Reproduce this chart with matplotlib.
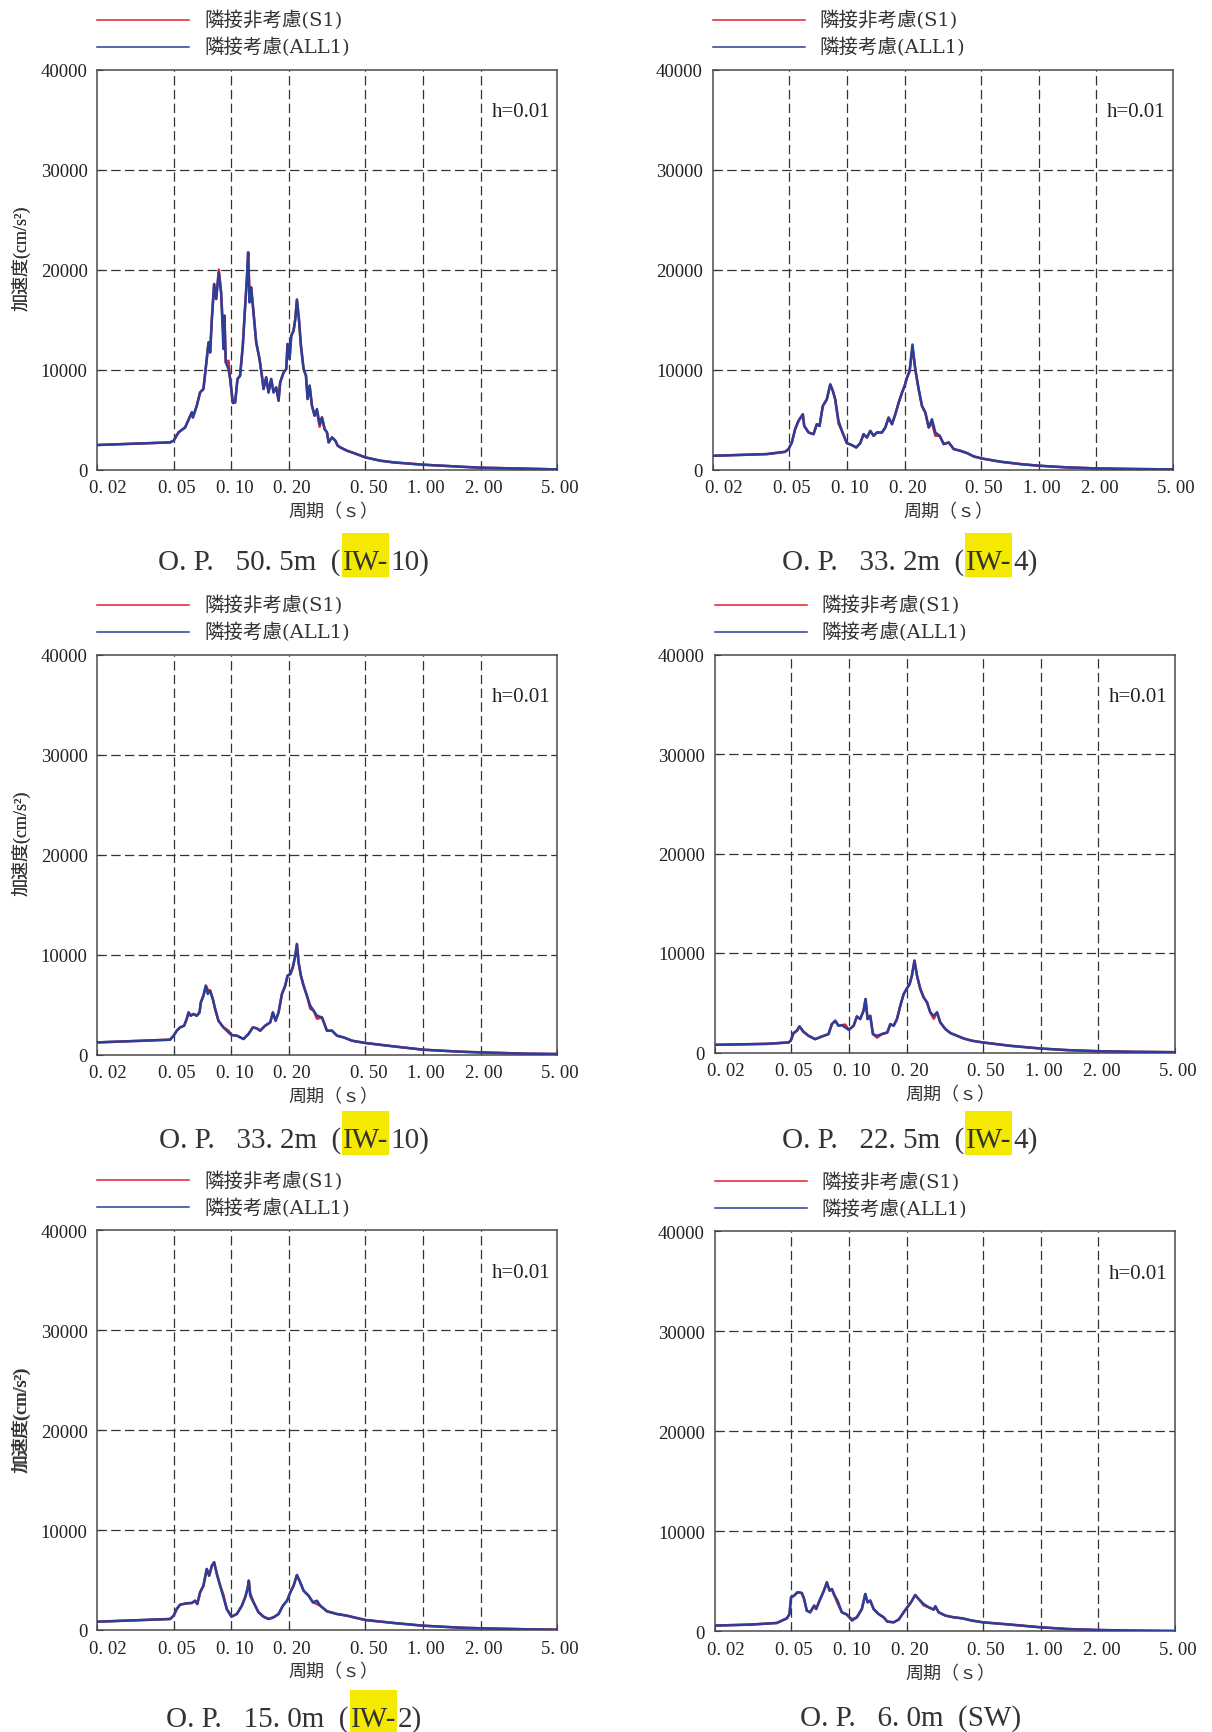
import matplotlib
matplotlib.use('Agg')
import matplotlib.pyplot as plt
from matplotlib.patches import Rectangle
from matplotlib.transforms import ScaledTranslation

# period (s) / acceleration (cm/s2)
# ALL1 = blue line, S1 = red line (only listed where it leaves ALL1)

# O.P. 50.5m (IW-10)
per_505 = [0.02, 0.0479, 0.05, 0.053, 0.0574, 0.0622, 0.063, 0.066, 0.0687, 0.0715,
           0.0744, 0.076, 0.0775, 0.0791, 0.0813, 0.0833, 0.086, 0.0884, 0.0909, 0.092,
           0.0935, 0.0966, 0.0985, 0.1018, 0.1046, 0.1076, 0.111, 0.1147, 0.118, 0.1204,
           0.1223, 0.1243, 0.1268, 0.1304, 0.1347, 0.1402, 0.1442, 0.1471, 0.1519, 0.1562,
           0.1613, 0.1659, 0.1713, 0.1762, 0.1796, 0.1871, 0.1932, 0.1962, 0.2011, 0.2051,
           0.211, 0.2153, 0.2196, 0.2249, 0.2304, 0.2379, 0.2448, 0.2497, 0.2558, 0.263,
           0.2716, 0.2793, 0.2884, 0.2966, 0.3062, 0.315, 0.3213, 0.3346, 0.3483, 0.3582,
           0.3698, 0.4006, 0.4341, 0.5, 0.598, 0.702, 1.0, 1.564, 2.0, 3.49,
           5.0]
all1_505 = [2470, 2730, 2900, 3730, 4230, 5730, 5230, 6400, 7730, 8070,
            11070, 12730, 11730, 15070, 18570, 17070, 19730, 17730, 12070, 15400,
            10730, 10070, 9070, 6670, 6730, 9070, 9400, 12400, 16400, 19070,
            21730, 16730, 18230, 15730, 12730, 11070, 9400, 8070, 9230, 7730,
            9070, 7730, 8230, 6900, 8730, 9730, 10070, 12570, 11070, 13400,
            13900, 15070, 17000, 15070, 12400, 10070, 9400, 7070, 8400, 6400,
            5400, 6070, 4570, 5230, 4070, 3730, 2730, 3230, 2900, 2400,
            2230, 1900, 1670, 1230, 900, 730, 500, 300, 200, 100,
            30]
s1_505 = {0.086: 20000, 0.0909: 13500, 0.0966: 10900, 0.1243: 17600, 0.2793: 5800, 0.2884: 4300}

# O.P. 33.2m (IW-4)
per_332b = [0.02, 0.0383, 0.0477, 0.0497, 0.0517, 0.0538, 0.056, 0.059, 0.06, 0.0632,
            0.0671, 0.0698, 0.0721, 0.075, 0.0787, 0.082, 0.0846, 0.087, 0.0906, 0.0943,
            0.1, 0.1064, 0.112, 0.1176, 0.1223, 0.1274, 0.1326, 0.138, 0.1436, 0.1525,
            0.1588, 0.1652, 0.172, 0.179, 0.1864, 0.194, 0.2, 0.206, 0.2126, 0.22,
            0.2276, 0.237, 0.2466, 0.2568, 0.2672, 0.278, 0.2896, 0.305, 0.32, 0.34,
            0.361, 0.391, 0.424, 0.459, 0.503, 0.632, 0.804, 1.0, 1.41, 2.0,
            3.14, 5.0]
all1_332b = [1390, 1560, 1790, 2060, 2720, 4050, 4880, 5540, 4380, 3720,
             3550, 4550, 4380, 6370, 7040, 8530, 7870, 7040, 4880, 3880,
             2660, 2460, 2220, 2660, 3550, 3220, 3880, 3390, 3720, 3720,
             4220, 5210, 4550, 5540, 6710, 7700, 8370, 9200, 9860, 12520,
             10030, 8030, 6370, 5710, 4220, 5050, 3720, 3390, 2560, 2720,
             2060, 1890, 1660, 1330, 1130, 800, 560, 400, 230, 130,
             70, 30]
s1_332b = {0.0906: 4600, 0.22: 12200, 0.278: 4700, 0.2896: 3400}

# O.P. 33.2m (IW-10)
per_332a = [0.02, 0.0479, 0.05, 0.0519, 0.054, 0.0567, 0.0585, 0.0598, 0.0614, 0.0634,
            0.066, 0.0682, 0.0693, 0.0715, 0.0736, 0.0753, 0.0775, 0.08, 0.0823, 0.0856,
            0.0909, 0.0966, 0.1, 0.1068, 0.1157, 0.1228, 0.1294, 0.1358, 0.1413, 0.15,
            0.1594, 0.1646, 0.17, 0.1762, 0.1834, 0.1908, 0.1962, 0.203, 0.209, 0.2153,
            0.2196, 0.224, 0.2304, 0.2379, 0.2476, 0.2578, 0.2684, 0.2794, 0.2966, 0.315,
            0.3346, 0.355, 0.385, 0.425, 0.5, 0.702, 1.0, 1.564, 2.0, 3.49,
            5.0]
all1_332a = [1230, 1500, 1900, 2400, 2730, 2900, 3570, 4230, 3900, 4070,
             3900, 4230, 5230, 5900, 6900, 6070, 6400, 5570, 4570, 3400,
             2730, 2230, 1970, 1900, 1570, 2070, 2730, 2630, 2400, 2900,
             3230, 4230, 3400, 4230, 6070, 6900, 7900, 8070, 8730, 9900,
             11070, 9230, 7900, 6900, 5900, 4900, 4400, 3900, 3730, 2400,
             2400, 1900, 1730, 1400, 1170, 830, 500, 300, 230, 100,
             70]
s1_332a = {0.0753: 6500, 0.0966: 2400, 0.2578: 4600, 0.2794: 3600}

# O.P. 22.5m (IW-4)
per_225 = [0.02, 0.0374, 0.0485, 0.0498, 0.0515, 0.0536, 0.0553, 0.0581, 0.0617, 0.0668,
           0.0724, 0.0784, 0.0816, 0.085, 0.0884, 0.092, 0.0958, 0.1, 0.106, 0.1102,
           0.1147, 0.1194, 0.1223, 0.1253, 0.1294, 0.1336, 0.1402, 0.1488, 0.1588, 0.1646,
           0.1713, 0.1783, 0.1856, 0.1932, 0.2, 0.2076, 0.2133, 0.22, 0.2268, 0.236,
           0.2456, 0.2558, 0.266, 0.2773, 0.2884, 0.3, 0.319, 0.339, 0.367, 0.397,
           0.439, 0.5, 0.696, 1.0, 1.376, 2.0, 3.07, 5.0]
all1_225 = [770, 870, 1010, 1180, 1950, 2180, 2620, 2080, 1680, 1340,
            1610, 1850, 2850, 3190, 2690, 2750, 2520, 2280, 2690, 3620,
            3360, 4200, 5370, 3360, 3690, 1850, 1680, 1850, 2010, 2850,
            2690, 3360, 4700, 5870, 6380, 6880, 7720, 9230, 7720, 6380,
            5540, 5030, 4030, 3690, 4030, 3020, 2350, 1950, 1680, 1410,
            1180, 1010, 670, 400, 240, 130, 70, 30]
s1_225 = {0.0958: 2800, 0.1402: 1500, 0.2773: 3400}

# O.P. 15.0m (IW-2)
per_150 = [0.02, 0.0479, 0.05, 0.0519, 0.054, 0.0585, 0.0622, 0.0647, 0.0664, 0.0687,
           0.0715, 0.0744, 0.0766, 0.0791, 0.0813, 0.084, 0.0874, 0.0909, 0.0946, 0.1,
           0.1068, 0.1134, 0.118, 0.1213, 0.1233, 0.1253, 0.1304, 0.1385, 0.1471, 0.1562,
           0.1659, 0.1762, 0.1856, 0.195, 0.203, 0.211, 0.2196, 0.2284, 0.2379, 0.2526,
           0.266, 0.2794, 0.2907, 0.315, 0.355, 0.4006, 0.4341, 0.5, 0.702, 1.0,
           1.564, 2.0, 3.49, 5.0]
all1_150 = [830, 1100, 1430, 2100, 2530, 2670, 2700, 2930, 2600, 3770,
            4430, 6100, 5430, 6430, 6770, 5600, 4430, 3270, 2100, 1330,
            1600, 2430, 3270, 4100, 4930, 3430, 2770, 1770, 1330, 1100,
            1270, 1600, 2430, 2930, 3770, 4430, 5500, 4770, 3930, 3430,
            2770, 2930, 2430, 1870, 1600, 1430, 1270, 1000, 700, 430,
            230, 170, 70, 30]
s1_150 = {0.0909: 3500, 0.1253: 3700, 0.2794: 2600}

# O.P. 6.0m (SW)
per_60 = [0.02, 0.0306, 0.0421, 0.0476, 0.0491, 0.05, 0.0519, 0.054, 0.0569, 0.0585,
          0.0604, 0.0629, 0.066, 0.0676, 0.0704, 0.0733, 0.0753, 0.0768, 0.0794, 0.0816,
          0.0843, 0.0874, 0.092, 0.0978, 0.1038, 0.1102, 0.117, 0.1219, 0.1253, 0.1294,
          0.1347, 0.143, 0.1519, 0.1588, 0.1713, 0.182, 0.1932, 0.2, 0.211, 0.222,
          0.2314, 0.2456, 0.261, 0.2773, 0.2827, 0.294, 0.319, 0.352, 0.39, 0.439,
          0.5, 0.696, 1.0, 1.376, 2.0, 3.07, 5.0]
all1_60 = [570, 670, 830, 1300, 1730, 3400, 3570, 3900, 3830, 3230,
           2070, 1900, 2570, 2230, 3070, 3830, 4400, 4900, 4070, 4230,
           3570, 3070, 1900, 1670, 1070, 1400, 2230, 3730, 2900, 3070,
           2230, 1730, 1400, 970, 900, 1170, 1900, 2300, 2900, 3630,
           3230, 2730, 2400, 2170, 2500, 1900, 1570, 1400, 1300, 1070,
           900, 670, 400, 230, 130, 70, 30]
s1_60 = {0.0874: 2800, 0.1038: 1200, 0.2456: 2600}

period_ticks = [0.02, 0.05, 0.1, 0.2, 0.5, 1.0, 2.0, 5.0]
period_labels = ['0. 02', '0. 05', '0. 10', '0. 20', '0. 50', '1. 00', '2. 00', '5. 00']
acc_ticks = [0, 10000, 20000, 30000, 40000]
legend_labels = ['隣接非考慮(S1)', '隣接考慮(ALL1)']
damping_label = 'h=0.01'
xlabel = '周期（ｓ）'
ylabel = '加速度(cm/s²)'

# panel: data, axes left/top/height in px, title pieces, highlight x, title baseline
panels = [
    (per_505, all1_505, s1_505, 97.3, 70.7, 400, ('O. P.   50. 5m  (', 'IW-', '10)'), 342, 570),
    (per_332b, all1_332b, s1_332b, 712.7, 70.7, 400, ('O. P.   33. 2m  (', 'IW-', '4)'), 965, 570),
    (per_332a, all1_332a, s1_332a, 97.3, 655.7, 400, ('O. P.   33. 2m  (', 'IW-', '10)'), 342, 1148),
    (per_225, all1_225, s1_225, 714.7, 655.5, 398, ('O. P.   22. 5m  (', 'IW-', '4)'), 965, 1148),
    (per_150, all1_150, s1_150, 97.3, 1231, 400, ('O. P.   15. 0m  (', 'IW-', '2)'), 350, 1727),
    (per_60, all1_60, s1_60, 714.7, 1232.3, 400, ('O. P.   6. 0m  (SW)', None, None), 800, 1726),
]

W, H = 1212, 1733
AW = 460
red = '#e0202a'
blue = '#2a3f9a'
grey = '#333333'
serif = 'Liberation Serif'
cjk = ['Liberation Serif', 'Noto Sans CJK JP']
cjk_wide = ['DejaVu Serif', 'Noto Sans CJK JP']

fig = plt.figure(figsize=(W / 100, H / 100), dpi=100)
fig.patch.set_facecolor('white')

for per, all1, s1diff, left, top, ah, title, hx, base in panels:
    ax = fig.add_axes([left / W, 1 - (top + ah) / H, AW / W, ah / H])
    s1 = [s1diff.get(p, v) for p, v in zip(per, all1)]

    for t in period_ticks[1:-1]:
        ax.axvline(t, color=grey, lw=0.9, ls=(0, (7.5, 3.5)), zorder=1)
    for a in acc_ticks[1:-1]:
        ax.axhline(a, color=grey, lw=0.9, ls=(0, (7.5, 3.5)), zorder=1)

    ax.plot(per, s1, color=red, lw=1.8, zorder=3)
    ax.plot(per, all1, color=blue, lw=1.8, zorder=4)

    ax.set_xscale('log')
    ax.set_xlim(0.02, 5.0)
    ax.set_ylim(0, 40000)
    ax.set_xticks(period_ticks)
    ax.set_xticklabels(period_labels)
    ax.minorticks_off()
    ax.set_yticks(acc_ticks)
    ax.set_yticklabels([str(a) for a in acc_ticks])
    ax.tick_params(direction='in', length=4, width=0.8, color=grey,
                   labelsize=13.5, labelcolor='#222222', pad=7)
    for lab in ax.get_xticklabels() + ax.get_yticklabels():
        lab.set_family(serif)
    for i, lab in enumerate(ax.get_xticklabels()):
        dx = 11 if i == 0 else 3
        lab.set_transform(lab.get_transform() + ScaledTranslation(dx / 100, 0, fig.dpi_scale_trans))
    for sp in ax.spines.values():
        sp.set_color('#4a4a4a')
        sp.set_linewidth(1.1)

    ax.text(1 - 7 / AW, 1 - 42 / ah, damping_label, transform=ax.transAxes,
            ha='right', va='center', fontsize=15, family=serif, color='#222222')

    # legend above the frame
    for k, (lab, col) in enumerate(zip(legend_labels, [red, blue])):
        yy = 1 + (50 - 27 * k) / ah
        ax.plot([0, 92 / AW], [yy, yy], color=col, lw=1.1, transform=ax.transAxes, clip_on=False)
        ax.text(107 / AW, yy, lab, transform=ax.transAxes, ha='left', va='center',
                fontsize=14, family=cjk_wide, color=grey)

    fig.text(21 / W, 1 - (top + 188) / H, ylabel, rotation=90, ha='center', va='center',
             fontsize=13, family=cjk, color=grey)
    fig.text((left + AW / 2 + 6) / W, 1 - (top + ah + 42) / H, xlabel, ha='center', va='center',
             fontsize=13, family=cjk, color=grey)

    # caption with the yellow marker
    t_left, t_mid, t_right = title
    if t_mid is None:
        fig.text(hx / W, 1 - base / H, t_left, ha='left', va='baseline',
                 fontsize=21, family=serif, color=grey)
    else:
        fig.add_artist(Rectangle((hx / W, 1 - (base + 8) / H), 47 / W, 44 / H,
                                 transform=fig.transFigure, facecolor='#f3ea00',
                                 edgecolor='none', zorder=1))
        fig.text((hx - 1) / W, 1 - base / H, t_left, ha='right', va='baseline',
                 fontsize=21, family=serif, color=grey)
        fig.text((hx + 23.5) / W, 1 - base / H, t_mid, ha='center', va='baseline',
                 fontsize=21, family=serif, color=grey)
        fig.text((hx + 48) / W, 1 - base / H, t_right, ha='left', va='baseline',
                 fontsize=21, family=serif, color=grey)

fig.savefig('out.png', dpi=100)
